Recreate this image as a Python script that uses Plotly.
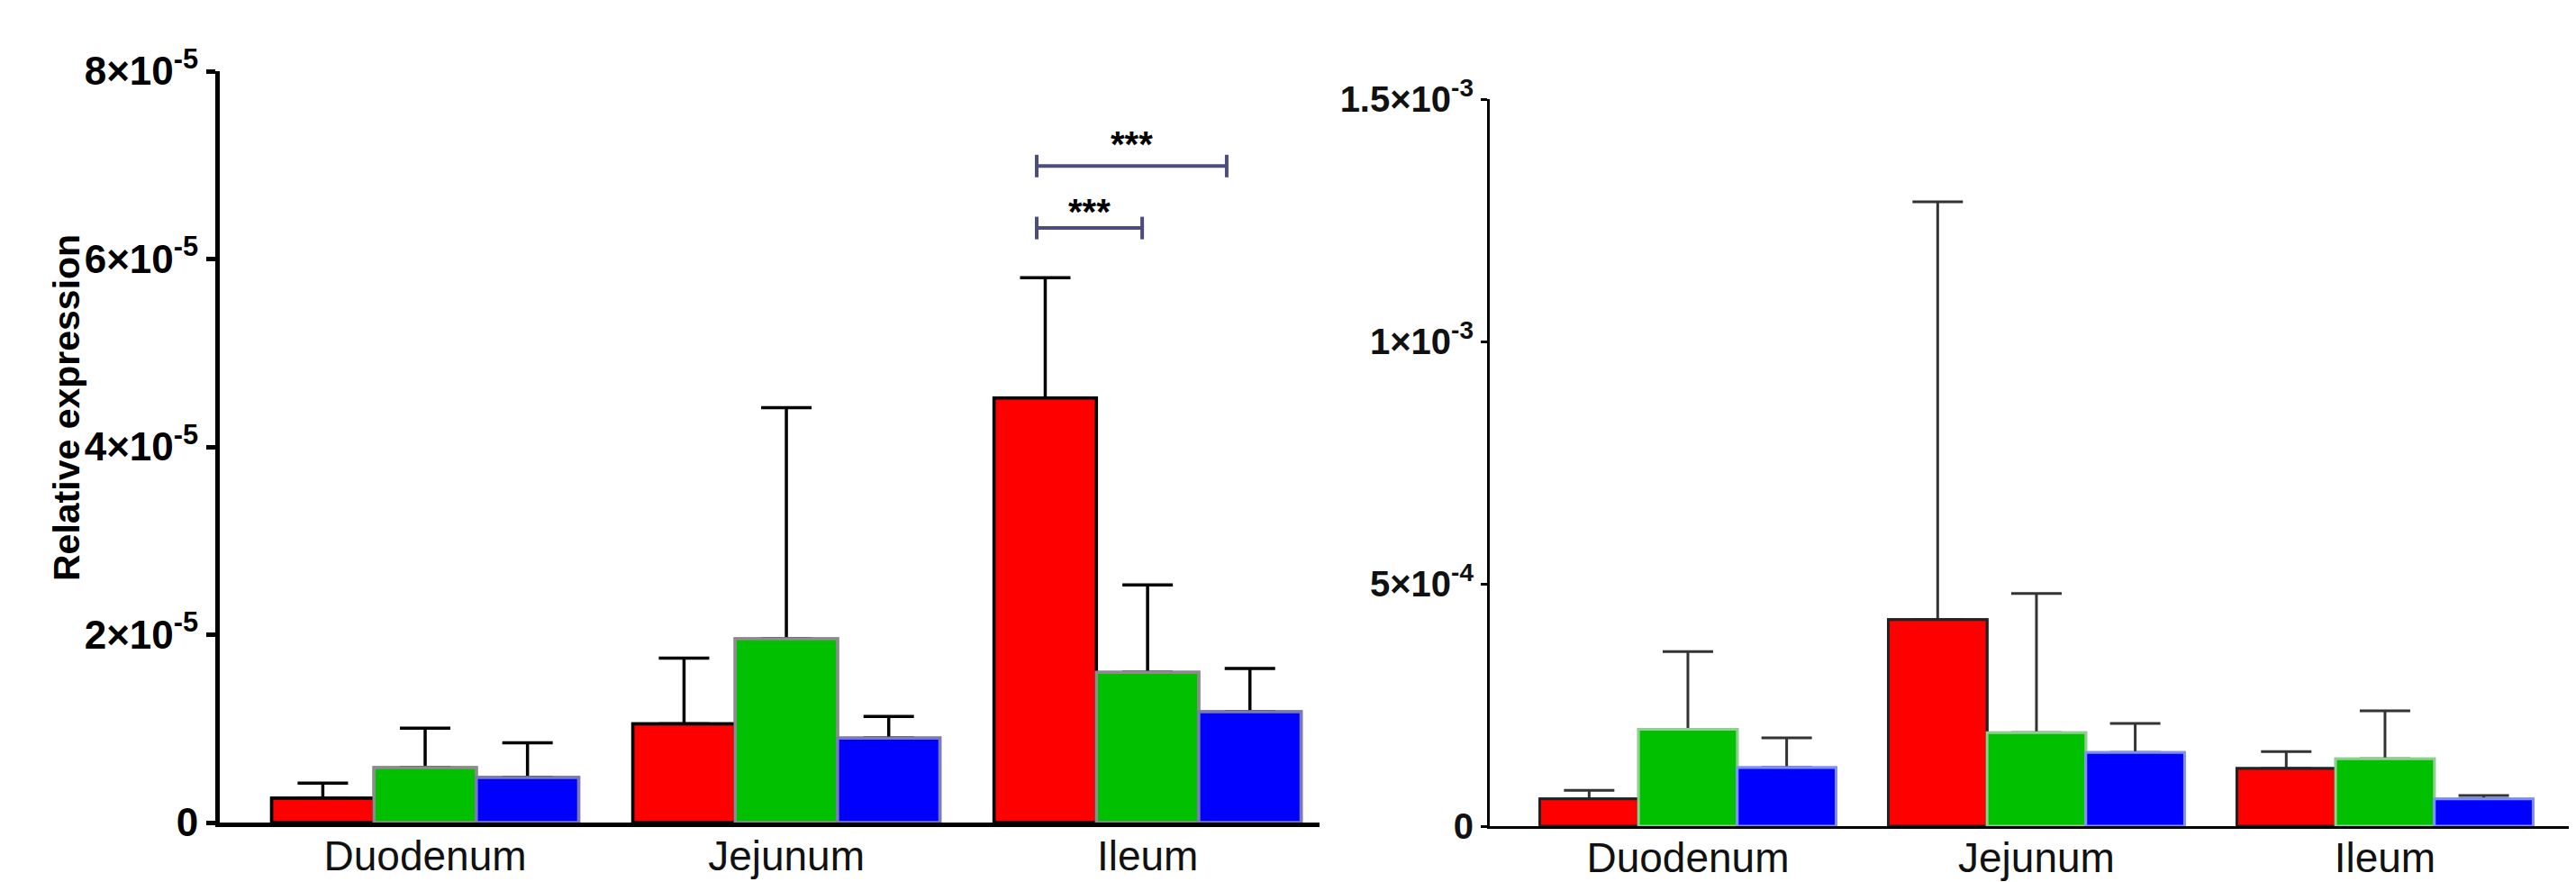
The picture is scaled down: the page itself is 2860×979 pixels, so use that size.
import plotly.graph_objects as go

# The page body has an 8px default margin, so the figure is drawn 8px in from the
# window's top-left corner; size it to fill the rest of the 2860x979 window.
OFF = 8
W, H = 2860 - OFF, 979 - OFF

categories = ["Duodenum", "Jejunum", "Ileum"]

# Left panel (relative expression)
red_L = [2.6e-6, 1.05e-5, 4.52e-5]
red_L_sem = [1.6e-6, 7.0e-6, 1.28e-5]
green_L = [5.85e-6, 1.957e-5, 1.60e-5]
green_L_sem = [4.2e-6, 2.46e-5, 9.3e-6]
blue_L = [4.8e-6, 9.0e-6, 1.18e-5]
blue_L_sem = [3.7e-6, 2.3e-6, 4.6e-6]

# Right panel
red_R = [5.6e-5, 4.26e-4, 1.19e-4]
red_R_sem = [1.8e-5, 8.62e-4, 3.5e-5]
green_R = [2.0e-4, 1.93e-4, 1.39e-4]
green_R_sem = [1.6e-4, 2.87e-4, 9.9e-5]
blue_R = [1.21e-4, 1.52e-4, 5.6e-5]
blue_R_sem = [6.1e-5, 6.0e-5, 7.0e-6]

left_tickvals = [0, 2e-5, 4e-5, 6e-5, 8e-5]
left_ticktext = ["0", "2×10<sup>-5</sup>", "4×10<sup>-5</sup>", "6×10<sup>-5</sup>", "8×10<sup>-5</sup>"]
right_tickvals = [0, 5e-4, 1e-3, 1.5e-3]
right_ticktext = ["0", "5×10<sup>-4</sup>", "1×10<sup>-3</sup>", "1.5×10<sup>-3</sup>"]

# significance brackets on left panel: (x0, x1, y, label)
brackets = [(1.693, 1.985, 6.33e-5, "***"), (1.693, 2.219, 6.99e-5, "***")]
star_shift = [-0.55e-6, 0.0]

FONT = "Liberation Sans, Arial, Helvetica, sans-serif"
RED, GREEN, BLUE = "#ff0000", "#00c000", "#0000ff"


def sx(px):  # screen x pixel -> paper fraction
    return (px - OFF) / W


def sy(py):  # screen y pixel -> paper fraction (from bottom)
    return (H - (py - OFF)) / H


fig = go.Figure()


def add_bars(vals, sems, color, line_color, line_w, err_color, err_w, xa, ya, cover_ya):
    # bar with upper error bar
    fig.add_trace(go.Bar(
        x=categories, y=vals, xaxis=xa, yaxis=ya,
        marker=dict(color=color, line=dict(color=line_color, width=line_w)),
        error_y=dict(type="data", array=sems, arrayminus=[0] * len(sems),
                     symmetric=False, color=err_color, thickness=err_w, width=28),
        showlegend=False, hoverinfo="skip",
    ))
    # identical bar on an overlaying axis, hiding the lower cap of the error bar
    fig.add_trace(go.Bar(
        x=categories, y=vals, xaxis=xa, yaxis=cover_ya,
        marker=dict(color=color, line=dict(color=line_color, width=line_w)),
        showlegend=False, hoverinfo="skip",
    ))


add_bars(red_L, red_L_sem, RED, "#000000", 3.5, "#000000", 3.5, "x", "y", "y3")
add_bars(green_L, green_L_sem, GREEN, "#8c8c8c", 3.5, "#000000", 3.5, "x", "y", "y3")
add_bars(blue_L, blue_L_sem, BLUE, "#7a7ab4", 3.5, "#000000", 3.5, "x", "y", "y3")

add_bars(red_R, red_R_sem, RED, "#222222", 3, "#333333", 3, "x2", "y2", "y4")
add_bars(green_R, green_R_sem, GREEN, "#8fcf8f", 3, "#333333", 3, "x2", "y2", "y4")
add_bars(blue_R, blue_R_sem, BLUE, "#7f8fff", 3, "#333333", 3, "x2", "y2", "y4")

shapes = []
tick_half = 1.2e-6
for x0, x1, y, lab in brackets:
    lc = dict(color="#4d4d7d", width=4)
    shapes.append(dict(type="line", xref="x", yref="y", x0=x0, x1=x1, y0=y, y1=y, line=lc))
    shapes.append(dict(type="line", xref="x", yref="y", x0=x0, x1=x0, y0=y - tick_half, y1=y + tick_half, line=lc))
    shapes.append(dict(type="line", xref="x", yref="y", x0=x1, x1=x1, y0=y - tick_half, y1=y + tick_half, line=lc))

annotations = []
for (x0, x1, y, lab), dy in zip(brackets, star_shift):
    annotations.append(dict(xref="x", yref="y", x=(x0 + x1) / 2, y=y + dy, text="<b>%s</b>" % lab,
                            showarrow=False, yanchor="bottom",
                            font=dict(family=FONT, size=40, color="#000000")))

annotations.append(dict(xref="paper", yref="paper", x=sx(74), y=sy(453),
                        text="<b>Relative expression</b>", textangle=-90, showarrow=False,
                        xanchor="center", yanchor="middle",
                        font=dict(family=FONT, size=41, color="#000000")))

xfont = dict(family=FONT, size=46, color="#111111")

fig.update_layout(
    template="none",
    width=W, height=H,
    margin=dict(l=0, r=0, t=0, b=0, autoexpand=False),
    paper_bgcolor="white", plot_bgcolor="rgba(0,0,0,0)",
    barmode="group", bargap=0.15, bargroupgap=0,
    shapes=shapes, annotations=annotations,
    xaxis=dict(domain=[sx(244), sx(1465)], range=[-0.5686, 2.476], type="category",
               anchor="y", automargin=False,
               showline=True, linecolor="black", linewidth=5, ticks="", showgrid=False,
               zeroline=False, tickfont=xfont, ticklabelstandoff=-7),
    yaxis=dict(domain=[sy(913), sy(79)], range=[0, 8e-5], anchor="x",
               automargin=False,
               tickvals=left_tickvals, ticktext=["<b>%s</b>" % t for t in left_ticktext],
               showline=True, linecolor="black", linewidth=5, ticks="outside",
               ticklen=10, tickwidth=5, tickcolor="black", showgrid=False, zeroline=False,
               tickfont=dict(family=FONT, size=44, color="#000000")),
    yaxis3=dict(overlaying="y", range=[0, 8e-5], visible=False, anchor="x",
                automargin=False, showgrid=False, zeroline=False),
    xaxis2=dict(domain=[sx(1654), 1.0], range=[-0.5685, 2.548], type="category",
                anchor="y2", automargin=False,
                showline=True, linecolor="black", linewidth=3, ticks="", showgrid=False,
                zeroline=False, tickfont=xfont, ticklabelstandoff=-7),
    yaxis2=dict(domain=[sy(917), sy(110)], range=[0, 1.5e-3], anchor="x2",
                automargin=False,
                tickvals=right_tickvals, ticktext=["<b>%s</b>" % t for t in right_ticktext],
                showline=True, linecolor="black", linewidth=3, ticks="outside",
                ticklen=7, tickwidth=3, tickcolor="black", showgrid=False, zeroline=False,
                tickfont=dict(family=FONT, size=40, color="#111111")),
    yaxis4=dict(overlaying="y2", range=[0, 1.5e-3], visible=False, anchor="x2",
                automargin=False, showgrid=False, zeroline=False),
)

fig.write_html("out.html")
